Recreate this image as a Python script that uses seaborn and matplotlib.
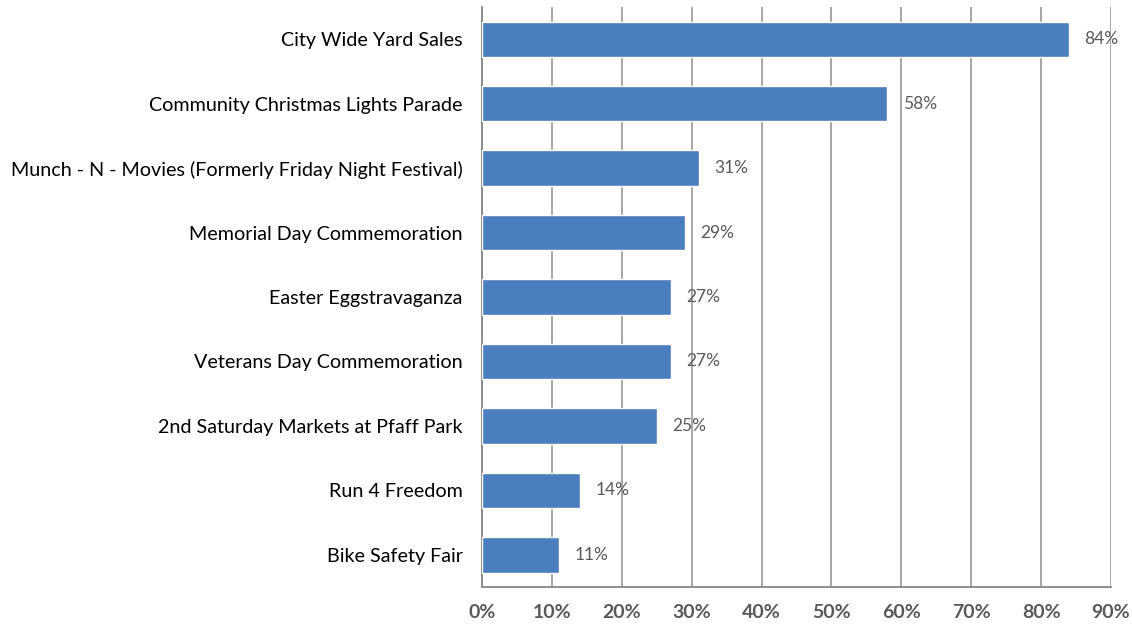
import matplotlib
matplotlib.use("Agg")
import matplotlib.pyplot as plt
from matplotlib.ticker import FixedLocator, PercentFormatter
import seaborn as sns
import pandas as pd

events = [
    "City Wide Yard Sales",
    "Community Christmas Lights Parade",
    "Munch - N - Movies (Formerly Friday Night Festival)",
    "Memorial Day Commemoration",
    "Easter Eggstravaganza",
    "Veterans Day Commemoration",
    "2nd Saturday Markets at Pfaff Park",
    "Run 4 Freedom",
    "Bike Safety Fair",
]
shares = [84, 58, 31, 29, 27, 27, 25, 14, 11]
x_ticks = [0, 10, 20, 30, 40, 50, 60, 70, 80, 90]

df = pd.DataFrame({"event": events, "share": shares})

sns.set_style("white")
plt.rcParams["font.family"] = ["Lato", "DejaVu Sans"]

fig = plt.figure(figsize=(11.32, 6.25), dpi=100)
ax = fig.add_axes([0.4258, 0.0608, 0.9815 - 0.4258, 0.9888 - 0.0608])

bar_color = "#4A7EBF"
sns.barplot(data=df, x="share", y="event", orient="h", color=bar_color,
            width=0.55, saturation=1, ax=ax, zorder=3)

ax.set_xlim(0, 90)
ax.set_ylim(len(events) - 0.5, -0.5)
ax.xaxis.set_major_locator(FixedLocator(x_ticks))
ax.xaxis.set_major_formatter(PercentFormatter(decimals=0))
ax.grid(axis="x", color="#A6A6A6", linewidth=1.4, zorder=0)
ax.grid(axis="y", visible=False)

for s in ["top", "right"]:
    ax.spines[s].set_visible(False)
for s in ["left", "bottom"]:
    ax.spines[s].set_color("#868686")
    ax.spines[s].set_linewidth(1.3)

# category labels centred, tick marks on category boundaries
ax.tick_params(axis="y", which="major", length=0, pad=14, labelsize=14.2,
               labelcolor="#000000")
ax.yaxis.set_minor_locator(FixedLocator([i - 0.5 for i in range(len(events) + 1)]))
ax.tick_params(axis="y", which="minor", length=6, width=1.3, color="#868686",
               direction="out")
ax.tick_params(axis="x", which="major", length=6, width=1.3, color="#868686",
               direction="out", pad=6, labelsize=14, labelcolor="#595959")
for lbl in ax.get_xticklabels():
    lbl.set_fontweight("bold")

ax.set_xlabel("")
ax.set_ylabel("")

for i, v in enumerate(shares):
    ax.annotate(f"{v}%", xy=(v, i), xytext=(11, 0), textcoords="offset points",
                va="center", ha="left", fontsize=12.5, color="#595959", zorder=4)

fig.savefig("out.png", dpi=100)
